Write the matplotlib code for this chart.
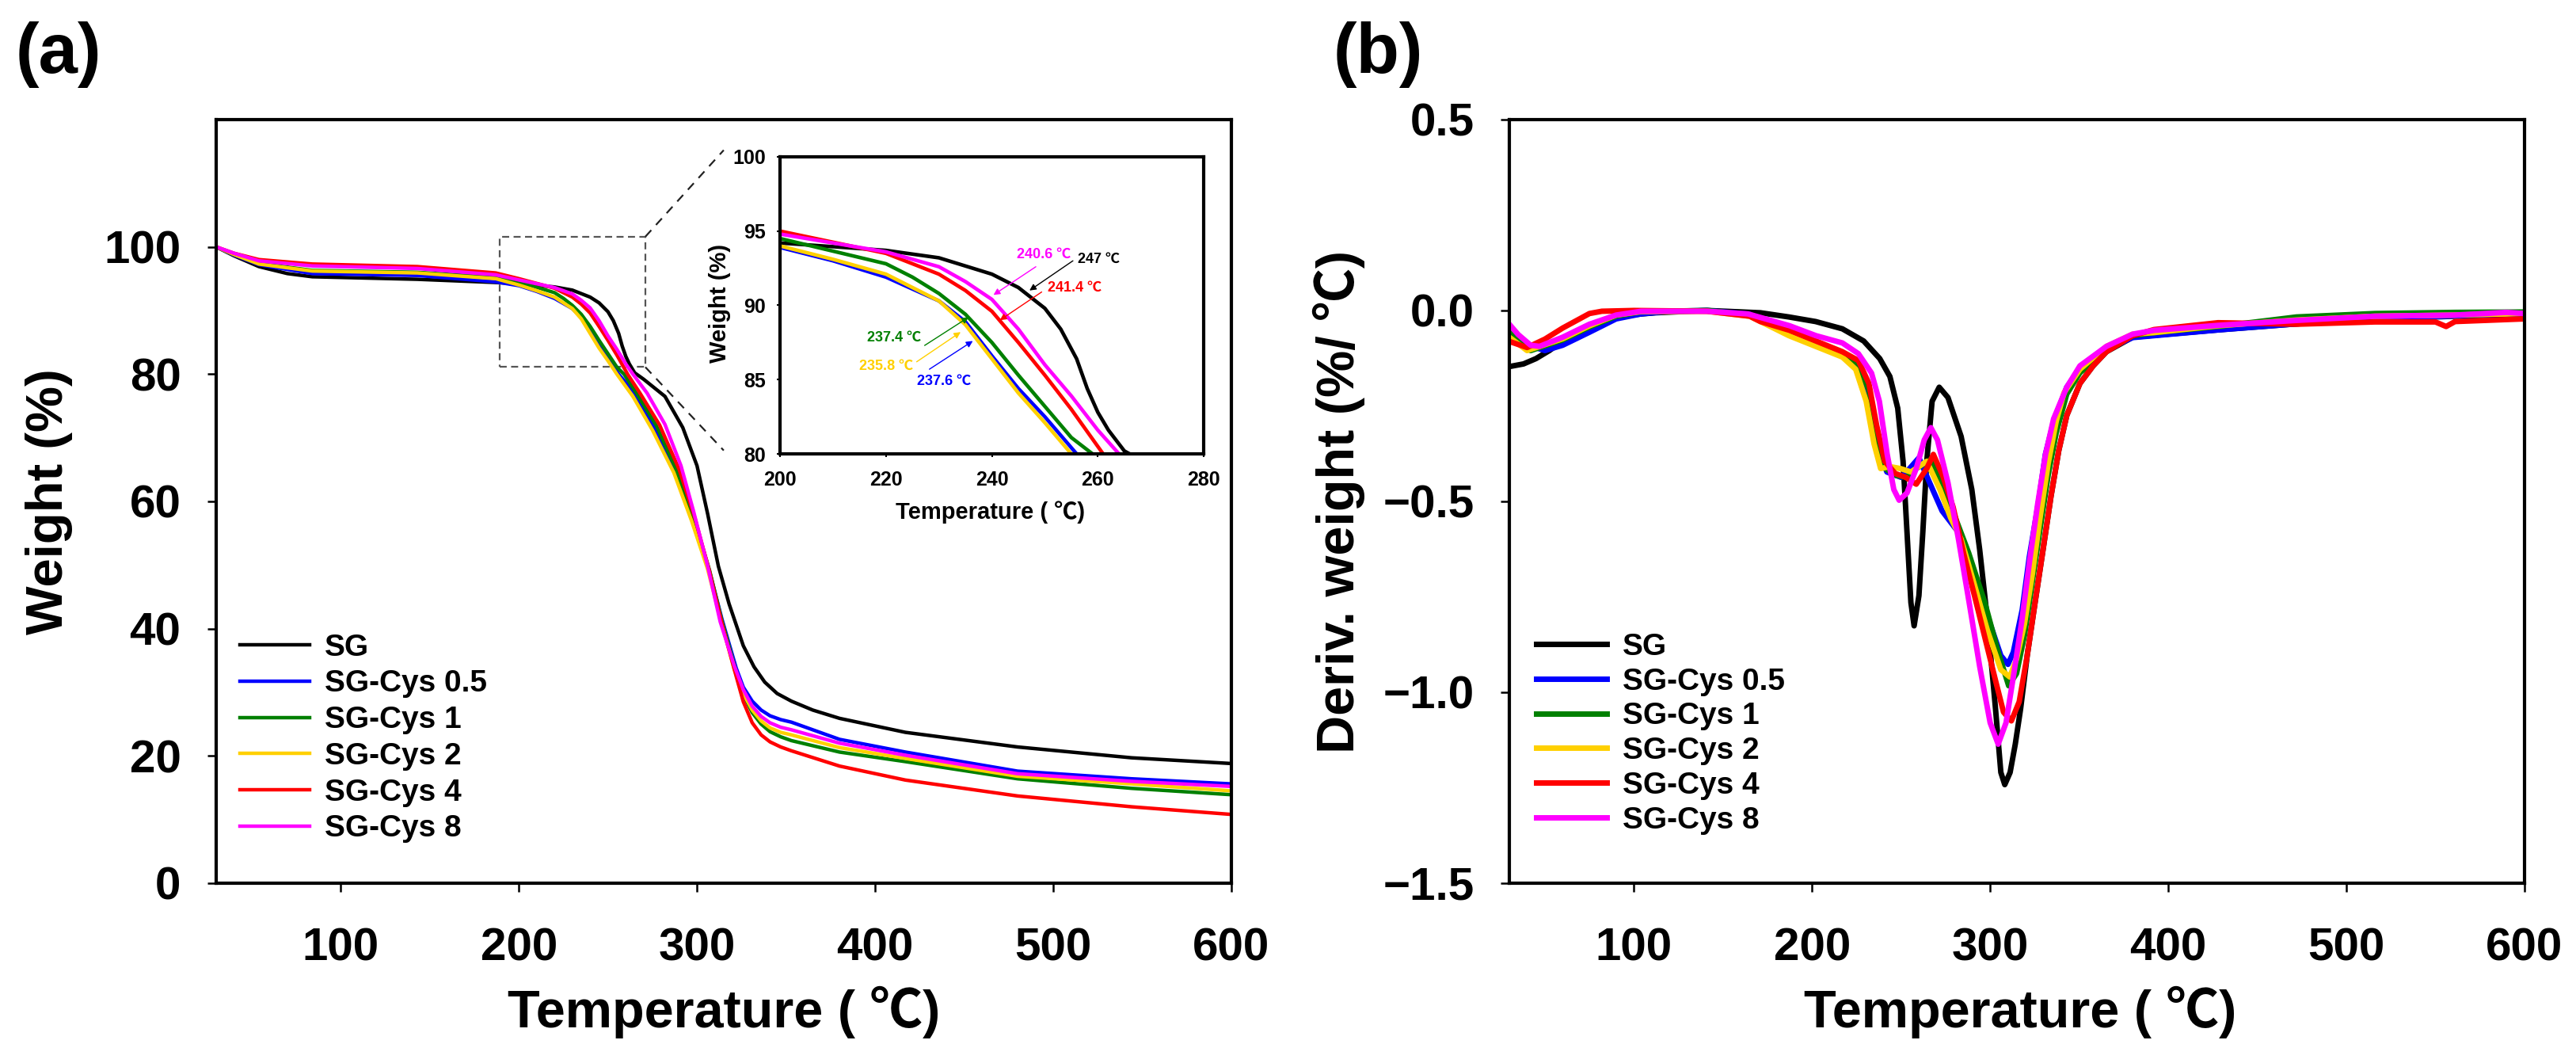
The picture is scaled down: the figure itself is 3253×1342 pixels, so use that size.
import matplotlib
matplotlib.use('Agg')
import matplotlib.pyplot as plt
from matplotlib.patches import Rectangle

plt.rcParams['font.family'] = ['Liberation Sans', 'Noto Sans CJK KR', 'DejaVu Sans']
plt.rcParams['font.weight'] = 'bold'
plt.rcParams['axes.labelweight'] = 'bold'

labels = ['SG', 'SG-Cys 0.5', 'SG-Cys 1', 'SG-Cys 2', 'SG-Cys 4', 'SG-Cys 8']
colors = ['#000000', '#0000ff', '#008000', '#ffd000', '#ff0000', '#ff00ff']

# ---- TGA (weight %) ----
sg_t = [30, 40, 54, 70, 84, 143, 187, 200, 220, 230, 240, 245, 250, 253, 256, 258, 260, 262, 265, 270, 282, 292, 300, 306, 312, 318, 326, 332, 338, 345, 353, 365, 380, 417, 480, 544, 600]
sg_w = [100, 98.6, 96.9, 95.8, 95.3, 94.9, 94.4, 94.2, 93.7, 93.2, 92.1, 91.2, 89.8, 88.4, 86.4, 84.4, 82.8, 81.6, 80.2, 79.2, 76.5, 71.6, 65.6, 58.0, 49.8, 43.9, 37.3, 34.0, 31.6, 29.8, 28.6, 27.2, 25.9, 23.7, 21.4, 19.7, 18.8]

c05_t = [30, 40, 54, 84, 143, 187, 200, 210, 220, 230, 235, 240, 245, 250, 256, 265, 276, 288, 298, 307, 314, 322, 326, 331, 336, 341, 347, 353, 380, 417, 480, 544, 600]
c05_w = [100, 98.7, 97.2, 95.8, 95.5, 94.5, 93.9, 93.0, 91.9, 90.3, 88.9, 86.6, 84.4, 82.5, 80.0, 77.0, 71.5, 64.8, 57.0, 49.0, 41.5, 33.8, 30.8, 28.6, 27.2, 26.3, 25.7, 25.3, 22.6, 20.6, 17.6, 16.4, 15.6]

c1_t = [30, 40, 54, 84, 143, 187, 200, 220, 225, 230, 235, 240, 245, 250, 255, 259, 266, 277, 288, 298, 307, 314, 322, 326, 331, 336, 341, 347, 353, 380, 417, 480, 544, 600]
c1_w = [100, 98.8, 97.4, 96.3, 96.0, 95.2, 94.5, 92.8, 91.9, 90.8, 89.4, 87.5, 85.3, 83.2, 81.1, 80.0, 77.0, 72.0, 65.2, 57.5, 49.2, 41.2, 33.2, 29.6, 26.8, 25.0, 23.8, 23.0, 22.4, 20.6, 19.1, 16.4, 14.9, 13.9]

c2_t = [30, 40, 54, 84, 143, 187, 200, 210, 220, 230, 235, 240, 245, 250, 255, 264, 275, 287, 297, 306, 313, 321, 326, 331, 336, 341, 347, 353, 380, 417, 480, 544, 600]
c2_w = [100, 98.8, 97.3, 96.2, 95.9, 95.0, 94.0, 93.1, 92.1, 90.3, 88.7, 86.4, 84.1, 82.1, 80.0, 76.5, 71.2, 64.5, 56.9, 49.3, 41.7, 33.5, 29.8, 27.2, 25.5, 24.4, 23.7, 23.3, 21.3, 19.6, 16.8, 15.6, 14.5]

c4_t = [30, 40, 54, 84, 143, 187, 200, 220, 230, 235, 240, 245, 250, 255, 261, 268, 279, 290, 299, 307, 314, 322, 326, 331, 336, 341, 347, 353, 380, 417, 480, 544, 600]
c4_w = [100, 99.0, 98.0, 97.3, 96.9, 95.9, 95.0, 93.5, 92.1, 91.0, 89.6, 87.5, 85.3, 83.0, 80.0, 77.0, 72.0, 65.0, 57.2, 49.0, 40.8, 32.5, 28.5, 25.2, 23.3, 22.2, 21.4, 20.8, 18.4, 16.2, 13.7, 12.0, 10.8]

c8_t = [30, 40, 54, 84, 143, 187, 200, 220, 230, 235, 240, 245, 250, 255, 260, 264, 272, 282, 291, 298, 306, 313, 321, 326, 331, 336, 341, 347, 353, 380, 417, 480, 544, 600]
c8_w = [100, 99.0, 97.8, 97.0, 96.6, 95.6, 94.8, 93.6, 92.6, 91.6, 90.4, 88.4, 86.0, 83.9, 81.6, 80.0, 77.0, 72.1, 65.6, 58.5, 49.8, 41.1, 34.1, 30.4, 27.8, 26.2, 25.2, 24.5, 24.1, 22.0, 20.1, 17.2, 16.0, 15.2]

# ---- DTG (deriv. weight %/C) ----
sg_dt = [30, 38, 45, 52.5, 67, 82, 97, 112, 141, 171, 187, 202, 217, 229, 238, 243.7, 248.1, 251.1, 253.3, 255.5, 257.3, 260, 262.2, 264.4, 267.4, 271.4, 276.3, 283.7, 289.7, 294.1, 298.5, 303, 306, 308.2, 311.2, 314.1, 317.1, 320.8, 325.2, 329.7, 334.1, 338.5, 343, 350.4, 357.8, 365.3, 380, 392, 430, 472, 516, 561, 600]
sg_d = [-0.147, -0.140, -0.126, -0.105, -0.057, -0.029, -0.012, -0.006, 0.0, -0.006, -0.017, -0.029, -0.048, -0.080, -0.126, -0.173, -0.256, -0.395, -0.580, -0.765, -0.826, -0.747, -0.580, -0.395, -0.238, -0.201, -0.228, -0.330, -0.469, -0.626, -0.812, -1.043, -1.210, -1.242, -1.210, -1.136, -1.043, -0.904, -0.765, -0.626, -0.488, -0.367, -0.275, -0.191, -0.145, -0.108, -0.070, -0.065, -0.050, -0.035, -0.022, -0.015, -0.010]

c05_dt = [30, 40, 50, 60, 75, 90, 104, 120, 141, 165, 187, 202, 217, 226, 232, 236, 242, 250, 254, 260, 266, 273, 282, 291, 300, 306, 310, 313, 318, 322, 327, 331, 336, 343, 350, 365, 380, 392, 428, 472, 516, 561, 600]
c05_d = [-0.065, -0.09, -0.105, -0.091, -0.057, -0.022, -0.009, -0.002, 0.0, -0.010, -0.060, -0.090, -0.117, -0.145, -0.228, -0.339, -0.423, -0.437, -0.418, -0.386, -0.451, -0.525, -0.580, -0.701, -0.821, -0.904, -0.927, -0.895, -0.784, -0.645, -0.506, -0.377, -0.284, -0.201, -0.154, -0.103, -0.071, -0.066, -0.051, -0.035, -0.022, -0.014, -0.008]

c1_dt = [30, 42, 60, 75, 90, 104, 141, 165, 187, 202, 217, 226, 232, 236, 241, 247, 253, 258.5, 266.7, 272, 279, 288, 297, 304.5, 310.4, 314.8, 319.3, 323.7, 328.1, 332.6, 337.1, 343, 350.4, 365.3, 380, 392, 428, 472, 516, 561, 600]
c1_d = [-0.057, -0.105, -0.077, -0.043, -0.015, -0.003, 0.0, -0.012, -0.050, -0.085, -0.113, -0.140, -0.210, -0.321, -0.414, -0.432, -0.437, -0.414, -0.390, -0.451, -0.525, -0.636, -0.765, -0.895, -0.983, -0.951, -0.850, -0.710, -0.570, -0.430, -0.320, -0.219, -0.163, -0.103, -0.066, -0.058, -0.042, -0.017, -0.008, -0.005, -0.004]

c2_dt = [30, 40, 60, 75, 90, 104, 141, 165, 187, 202, 217, 224.5, 230.4, 234.8, 238.5, 243.7, 249.6, 255.5, 261.5, 264.4, 271.8, 277.8, 283.7, 291.2, 298.5, 306, 311, 314.8, 319.3, 323.7, 328.1, 332.6, 337.1, 341.5, 350.4, 365.3, 380, 392, 428, 472, 516, 561, 600]
c2_d = [-0.070, -0.105, -0.074, -0.040, -0.012, -0.003, -0.002, -0.015, -0.066, -0.094, -0.122, -0.154, -0.238, -0.349, -0.414, -0.409, -0.414, -0.423, -0.404, -0.395, -0.469, -0.543, -0.599, -0.719, -0.839, -0.941, -0.960, -0.913, -0.820, -0.690, -0.540, -0.400, -0.290, -0.215, -0.154, -0.094, -0.062, -0.058, -0.040, -0.025, -0.015, -0.012, -0.008]

c4_dt = [30, 40, 50, 60, 75, 82, 100, 141, 165, 171, 187.4, 202.2, 217, 226, 231.9, 236.3, 240.8, 246.7, 252.6, 258.5, 264.4, 268.1, 273.3, 279.2, 285.1, 291.2, 297.1, 303, 307.5, 311.9, 316.3, 320.8, 325.2, 329.7, 334.1, 338.5, 343, 350.4, 357.8, 365.3, 380, 392, 428, 472, 516, 550, 556, 561, 600]
c4_d = [-0.081, -0.097, -0.075, -0.046, -0.008, -0.002, 0.0, -0.002, -0.015, -0.029, -0.052, -0.080, -0.108, -0.131, -0.191, -0.302, -0.395, -0.427, -0.437, -0.455, -0.414, -0.377, -0.432, -0.515, -0.636, -0.747, -0.858, -0.969, -1.052, -1.075, -1.025, -0.904, -0.765, -0.626, -0.488, -0.367, -0.275, -0.191, -0.145, -0.108, -0.066, -0.050, -0.032, -0.036, -0.030, -0.030, -0.042, -0.029, -0.022]

c8_dt = [30, 35, 42, 47, 60, 75, 90, 104, 141, 164, 187.4, 202.2, 217, 226, 233.4, 237.8, 242.2, 245.9, 248.9, 253.3, 258.5, 263, 266.7, 270.4, 276.3, 282.2, 288.2, 294.1, 300, 304.5, 308.9, 313.3, 317.8, 322.2, 326.7, 331.1, 335.6, 343, 350.4, 365.3, 380, 392, 428, 472, 516, 561, 590, 600]
c8_d = [-0.036, -0.063, -0.091, -0.094, -0.070, -0.036, -0.012, -0.002, -0.002, -0.009, -0.040, -0.066, -0.085, -0.113, -0.164, -0.238, -0.377, -0.469, -0.497, -0.478, -0.414, -0.339, -0.307, -0.339, -0.451, -0.599, -0.765, -0.932, -1.080, -1.136, -1.080, -0.951, -0.812, -0.654, -0.506, -0.377, -0.284, -0.201, -0.145, -0.094, -0.062, -0.052, -0.039, -0.026, -0.015, -0.012, -0.005, -0.008]

tga_t = [sg_t, c05_t, c1_t, c2_t, c4_t, c8_t]
tga_w = [sg_w, c05_w, c1_w, c2_w, c4_w, c8_w]
dtg_t = [sg_dt, c05_dt, c1_dt, c2_dt, c4_dt, c8_dt]
dtg_d = [sg_d, c05_d, c1_d, c2_d, c4_d, c8_d]

# inset onset labels: text, colour index, text pos, arrow tail, arrow head
onset_text = ['240.6 ℃', '247 ℃', '241.4 ℃', '237.4 ℃', '235.8 ℃', '237.6 ℃']
onset_col = [5, 0, 4, 2, 3, 1]
onset_txt_xy = [(244.7, 93.4), (256.2, 93.1), (250.6, 91.2), (216.4, 87.8), (214.9, 85.9), (225.8, 84.9)]
onset_tail = [(248.3, 92.6), (255.3, 93.0), (249.4, 90.9), (227.3, 87.3), (225.8, 86.2), (228.2, 85.7)]
onset_head = [(240.3, 90.7), (247.1, 91.0), (241.5, 89.0), (235.6, 89.2), (234.1, 88.2), (236.4, 87.6)]

zoom_box = (189, 81.1, 82, 20.5)   # x, y, width, height
zoom_lines = [((271, 101.6), (315, 115.2)), ((271, 81.1), (315, 68.0))]

fig = plt.figure(figsize=(32.53, 13.42), dpi=100)
ax1 = fig.add_axes([0.0839, 0.1692, 0.3941, 0.7183])
ax2 = fig.add_axes([0.5859, 0.1692, 0.3941, 0.7183])
axin = fig.add_axes([0.3028, 0.5730, 0.1645, 0.2795])


def style_axis(ax, lw=3.0):
    for s in ax.spines.values():
        s.set_linewidth(lw)


# (a) TGA
for t, w, c, lab in zip(tga_t, tga_w, colors, labels):
    ax1.plot(t, w, color=c, lw=3.2, label=lab)
ax1.set_xlim(30, 600)
ax1.set_ylim(0, 120)
ax1.set_xticks([100, 200, 300, 400, 500, 600])
ax1.set_yticks([0, 20, 40, 60, 80, 100])
style_axis(ax1)
ax1.tick_params(axis='x', direction='out', length=8, width=1.8, labelsize=42, pad=32)
ax1.tick_params(axis='y', direction='out', length=8, width=1.8, labelsize=42, pad=24)
ax1.set_xlabel('Temperature ( ℃)', fontsize=48)
ax1.set_ylabel('Weight (%)', fontsize=47)
ax1.xaxis.set_label_coords(0.5, -0.135)
ax1.yaxis.set_label_coords(-0.141, 0.5)
ax1.legend(loc='upper left', bbox_to_anchor=(0.0234, 0.327), frameon=False, fontsize=28,
           handlelength=2.26, handletextpad=0.5, labelspacing=0.25, borderpad=0, borderaxespad=0)

ax1.add_patch(Rectangle((zoom_box[0], zoom_box[1]), zoom_box[2], zoom_box[3], fill=False,
                        ec='#555555', lw=1.6, ls=(0, (4, 2.5))))
for p0, p1 in zoom_lines:
    ax1.plot([p0[0], p1[0]], [p0[1], p1[1]], color='#222222', lw=1.6, ls=(0, (5, 4)))

# inset
for t, w, c in zip(tga_t, tga_w, colors):
    axin.plot(t, w, color=c, lw=3.3)
axin.set_xlim(200, 280)
axin.set_ylim(80, 100)
axin.set_xticks([200, 220, 240, 260, 280])
axin.set_yticks([80, 85, 90, 95, 100])
style_axis(axin, 3.0)
axin.tick_params(direction='out', length=3, width=1.5, labelsize=18)
axin.tick_params(axis='x', pad=12)
axin.tick_params(axis='y', pad=10)
axin.set_xlabel('Temperature ( ℃)', fontsize=21)
axin.set_ylabel('Weight (%)', fontsize=21)
axin.xaxis.set_label_coords(0.497, -0.157)
axin.yaxis.set_label_coords(-0.116, 0.507)
for txt, ci, pos, tail, head in zip(onset_text, onset_col, onset_txt_xy, onset_tail, onset_head):
    c = colors[ci]
    axin.annotate('', xy=head, xytext=tail,
                  arrowprops=dict(arrowstyle='-|>', color=c, lw=1.0, mutation_scale=12,
                                  shrinkA=0, shrinkB=0))
    axin.text(pos[0], pos[1], txt, color=c, fontsize=13, ha='left', va='center')

# (b) DTG
for t, d, c, lab in zip(dtg_t, dtg_d, colors, labels):
    ax2.plot(t, d, color=c, lw=5.0, label=lab)
ax2.set_xlim(30, 600)
ax2.set_ylim(-1.5, 0.5)
ax2.set_xticks([100, 200, 300, 400, 500, 600])
ax2.set_yticks([-1.5, -1.0, -0.5, 0.0, 0.5])
ax2.set_yticklabels(['\u22121.5', '\u22121.0', '\u22120.5', '0.0', '0.5'])
style_axis(ax2)
ax2.tick_params(axis='x', direction='out', length=8, width=1.8, labelsize=42, pad=32)
ax2.tick_params(axis='y', direction='out', length=8, width=1.8, labelsize=42, pad=24)
ax2.set_xlabel('Temperature ( ℃)', fontsize=48)
ax2.set_ylabel('Deriv. weight (%/ ℃)', fontsize=48)
ax2.xaxis.set_label_coords(0.503, -0.135)
ax2.yaxis.set_label_coords(-0.142, 0.5)
ax2.legend(loc='upper left', bbox_to_anchor=(0.0265, 0.328), frameon=False, fontsize=28,
           handlelength=2.3, handletextpad=0.5, labelspacing=0.2, borderpad=0, borderaxespad=0)

fig.text(0.006, 0.98, '(a)', fontsize=64, va='top', ha='left')
fig.text(0.5177, 0.98, '(b)', fontsize=64, va='top', ha='left')

fig.savefig('out.png', dpi=100)
